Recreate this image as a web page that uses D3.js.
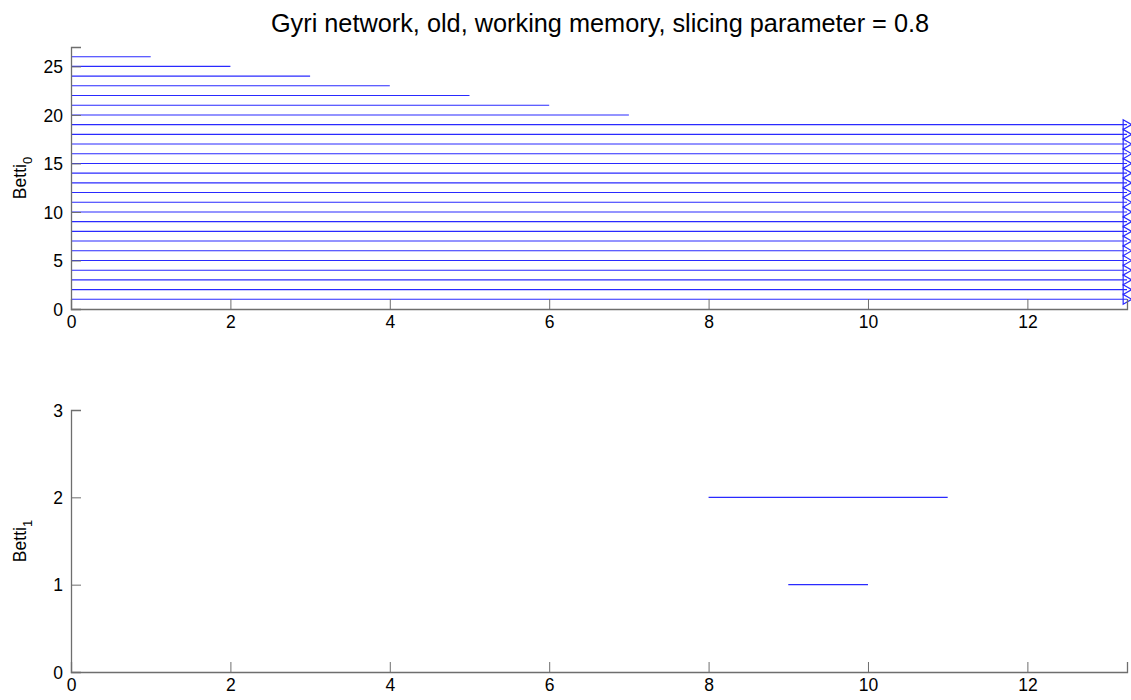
<!DOCTYPE html>
<html>
<head>
<meta charset="utf-8">
<script src="https://cdn.jsdelivr.net/npm/d3@7"></script>
<style>
  body { margin: 0; background: #fff; }
  svg { display: block; font-family: "Liberation Sans", Arial, Helvetica, sans-serif; }
</style>
</head>
<body>
<svg id="chart" width="1131" height="700"></svg>
<script>
// Persistence barcodes: each bar is [birth, death]; null death = persists to the end.
const titleText = "Gyri network, old, working memory, slicing parameter = 0.8";

// Betti_0 bars, listed by row 1..26
const betti0Rows   = [1,2,3,4,5,6,7,8,9,10,11,12,13,14,15,16,17,18,19,20,21,22,23,24,25,26];
const betti0Births = [0,0,0,0,0,0,0,0,0,0,0,0,0,0,0,0,0,0,0,0,0,0,0,0,0,0];
const betti0Deaths = [null,null,null,null,null,null,null,null,null,null,null,null,null,null,null,null,null,null,null,7,6,5,4,3,2,1];

// Betti_1 bars
const betti1Rows   = [1, 2];
const betti1Births = [9, 8];
const betti1Deaths = [10, 11];

const xMax = 13.25;
const xTicks = [0, 2, 4, 6, 8, 10, 12];
const y0Ticks = [0, 5, 10, 15, 20, 25];
const y0Max = 27;
const y1Ticks = [0, 1, 2, 3];
const y1Max = 3;

const svg = d3.select("#chart");
const axisColor = "#6e6e6e";
const barColor = "#2a2aff";
const tickFont = 17.5;

const x = d3.scaleLinear().domain([0, xMax]).range([71, 1127]);

svg.append("text")
  .attr("x", 600).attr("y", 32)
  .attr("text-anchor", "middle")
  .attr("font-size", 25.3)
  .attr("fill", "#000")
  .text(titleText);

function panel(yDomainMax, yRange, yTicks, rows, births, deaths, sub) {
  const y = d3.scaleLinear().domain([0, yDomainMax]).range(yRange);
  const g = svg.append("g");

  // bars
  const data = rows.map((r, i) => ({ row: r, b: births[i], d: deaths[i] }));
  g.selectAll("line.bar").data(data).join("line")
    .attr("class", "bar")
    .attr("x1", d => x(d.b))
    .attr("x2", d => x(d.d === null ? xMax : d.d))
    .attr("y1", d => y(d.row))
    .attr("y2", d => y(d.row))
    .attr("stroke", barColor)
    .attr("stroke-width", 1.1);

  // open right-pointing triangles on bars that never die
  const tri = d3.symbol().type(d3.symbolTriangle).size(42);
  g.selectAll("path.inf").data(data.filter(d => d.d === null)).join("path")
    .attr("class", "inf")
    .attr("d", tri)
    .attr("transform", d => `translate(${x(xMax) - 1},${y(d.row)}) rotate(90)`)
    .attr("fill", "none")
    .attr("stroke", barColor)
    .attr("stroke-width", 1.2);

  // x axis (ticks pointing inward)
  const xAxis = g.append("g")
    .attr("transform", `translate(0,${yRange[0]})`)
    .call(d3.axisBottom(x).tickValues(xTicks).tickSize(-10).tickPadding(16).tickFormat(d3.format("d")));
  // y axis
  const yAxis = g.append("g")
    .attr("transform", `translate(${x(0)},0)`)
    .call(d3.axisLeft(y).tickValues(yTicks).tickSize(-10).tickPadding(18).tickFormat(d3.format("d")));

  [xAxis, yAxis].forEach(a => {
    a.select(".domain").attr("stroke", axisColor).attr("stroke-width", 1.3);
    a.selectAll(".tick line").attr("stroke", axisColor).attr("stroke-width", 1);
    a.selectAll(".tick text").attr("fill", "#000").attr("font-size", tickFont).attr("font-family", "Liberation Sans, Arial, sans-serif");
  });
  xAxis.selectAll(".tick text").attr("dy", "0.15em");
  yAxis.selectAll(".tick text").attr("dx", "10").attr("dy", "0.35em");

  // y label with subscript
  const cy = (yRange[0] + yRange[1]) / 2;
  const lbl = svg.append("text")
    .attr("transform", `translate(26,${cy}) rotate(-90)`)
    .attr("text-anchor", "middle")
    .attr("font-size", 17.5)
    .attr("fill", "#000");
  lbl.append("tspan").text("Betti");
  lbl.append("tspan").attr("font-size", 13).attr("dy", 6).text(sub);
}

panel(y0Max, [309, 47], y0Ticks, betti0Rows, betti0Births, betti0Deaths, "0");
panel(y1Max, [672, 410], y1Ticks, betti1Rows, betti1Births, betti1Deaths, "1");
</script>
</body>
</html>
